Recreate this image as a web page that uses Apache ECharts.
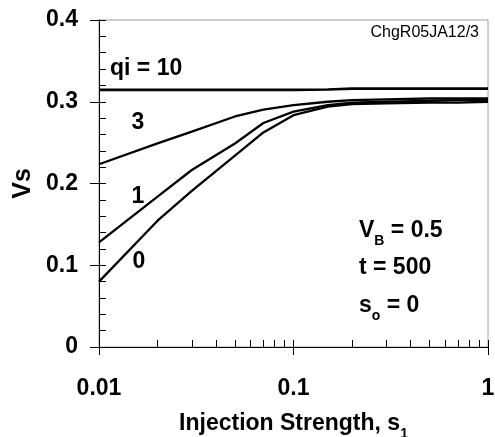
<!DOCTYPE html>
<html>
<head>
<meta charset="utf-8">
<script src="https://cdn.jsdelivr.net/npm/echarts@6/dist/echarts.min.js"></script>
<style>
html,body{margin:0;padding:0;background:#fff;}
#chart{width:495px;height:437px;}
</style>
</head>
<body>
<div id="chart"></div>
<script>
// Injection strength s1 (x, log scale)
const sValues = [0.01, 0.02, 0.03, 0.05, 0.07, 0.1, 0.15, 0.2, 0.3, 0.5, 0.7, 1];
// Vs for each qi
const qi10 = [0.3145, 0.3145, 0.3145, 0.3145, 0.3145, 0.3145, 0.315, 0.316, 0.316, 0.316, 0.316, 0.316];
const qi3  = [0.2235, 0.249, 0.2635, 0.282, 0.2905, 0.296, 0.300, 0.302, 0.303, 0.304, 0.304, 0.304];
const qi1  = [0.128, 0.184, 0.2165, 0.249, 0.274, 0.288, 0.296, 0.299, 0.300, 0.301, 0.302, 0.302];
const qi0  = [0.080, 0.1545, 0.191, 0.234, 0.2625, 0.2835, 0.294, 0.297, 0.298, 0.299, 0.299, 0.300];
const seriesNames = ['qi = 10', '3', '1', '0'];
const xTicks = [0.01, 0.1, 1];
const yTicks = [0, 0.1, 0.2, 0.3, 0.4];
const xMinorMults = [2, 3, 4, 5, 6, 7, 8, 9];

const FONT = '"Liberation Sans", Arial, sans-serif';
const pairs = arr => sValues.map((s, i) => [s, arr[i]]);

// minor tick positions on a log10 helper axis
const minorLog = [];
[-2, -1].forEach(e => { minorLog.push(e); xMinorMults.forEach(m => minorLog.push(e + Math.log10(m))); });
minorLog.push(0);

const chart = echarts.init(document.getElementById('chart'), null, {renderer: 'canvas'});

const mkSeries = (name, arr, w) => ({
  name, type: 'line', xAxisIndex: 0, yAxisIndex: 0, data: pairs(arr),
  symbol: 'none', smooth: false, animation: false,
  lineStyle: {color: '#000', width: w}, z: 5
});

const subRich = {
  m: {fontFamily: FONT, fontWeight: 'bold', fontSize: 23, lineHeight: 26, color: '#000'},
  s: {fontFamily: FONT, fontWeight: 'bold', fontSize: 14, lineHeight: 14, padding: [20, 0, 0, 0], color: '#000'}
};

const txt = (text, x, y, opts = {}) => ({
  type: 'text', x, y, silent: true, z: 10,
  style: Object.assign({
    text, fill: '#000', fontFamily: FONT, fontWeight: 'bold', fontSize: 23,
    align: 'left', verticalAlign: 'middle'
  }, opts)
});

chart.setOption({
  animation: false,
  backgroundColor: '#fff',
  grid: {left: 99, right: 7, top: 20, bottom: 90, show: true, borderColor: '#a0a0a0', borderWidth: 1,
    containLabel: false, outerBoundsMode: 'none'},
  xAxis: [{
    type: 'log', logBase: 10, min: xTicks[0], max: xTicks[xTicks.length - 1],
    position: 'bottom',
    name: '{m|Injection Strength, s}{s|1}',
    nameLocation: 'middle', nameGap: 64,
    nameTextStyle: {rich: subRich},
    axisLine: {show: true, onZero: false, lineStyle: {color: '#000', width: 1}},
    axisTick: {show: true, inside: false, length: 8, lineStyle: {color: '#000'}},
    axisLabel: {show: true, margin: 30, color: '#000', fontFamily: FONT, fontWeight: 'bold', fontSize: 23,
      formatter: v => String(v)},
    splitLine: {show: false}, minorTick: {show: false}
  }, {
    type: 'value', min: -2, max: 0, position: 'bottom', offset: 0,
    axisLine: {show: false, onZero: false},
    axisTick: {show: true, inside: true, length: 7, customValues: minorLog, lineStyle: {color: '#000'}},
    axisLabel: {show: false}, splitLine: {show: false}
  }],
  yAxis: [{
    type: 'value', min: yTicks[0], max: yTicks[yTicks.length - 1], interval: 0.1,
    position: 'left',
    name: 'Vs', nameLocation: 'middle', nameGap: 62, nameRotate: 90,
    nameTextStyle: {color: '#000', fontFamily: FONT, fontWeight: 'bold', fontSize: 25},
    axisLine: {show: true, onZero: false, lineStyle: {color: '#000', width: 1}},
    axisTick: {show: true, inside: false, length: 9, lineStyle: {color: '#000'}},
    axisLabel: {show: true, margin: 21, color: '#000', fontFamily: FONT, fontWeight: 'bold', fontSize: 23},
    splitLine: {show: false}
  }, {
    type: 'value', min: 0, max: 0.4, interval: 0.02, position: 'left', offset: 0,
    axisLine: {show: false, onZero: false},
    axisTick: {show: true, inside: true, length: 7, lineStyle: {color: '#000'}},
    axisLabel: {show: false}, splitLine: {show: false}
  }],
  series: [
    mkSeries(seriesNames[0], qi10, 2.6),
    mkSeries(seriesNames[1], qi3, 2.3),
    mkSeries(seriesNames[2], qi1, 2.3),
    mkSeries(seriesNames[3], qi0, 2.3)
  ],
  graphic: [
    txt(seriesNames[0], 110, 69),
    txt(seriesNames[1], 138, 123, {align: 'center'}),
    txt(seriesNames[2], 138, 197, {align: 'center'}),
    txt(seriesNames[3], 139, 262, {align: 'center'}),
    txt('ChgR05JA12/3', 479, 33, {align: 'right', fontWeight: 'normal', fontSize: 16}),
    {type: 'text', x: 359, y: 231, silent: true, z: 10,
      style: {text: '{m|V}{s|B}{m| = 0.5}', rich: subRich, align: 'left', verticalAlign: 'middle'}},
    txt('t = 500', 359, 268),
    {type: 'text', x: 359, y: 306, silent: true, z: 10,
      style: {text: '{m|s}{s|o}{m| = 0}', rich: subRich, align: 'left', verticalAlign: 'middle'}}
  ]
});
</script>
</body>
</html>
